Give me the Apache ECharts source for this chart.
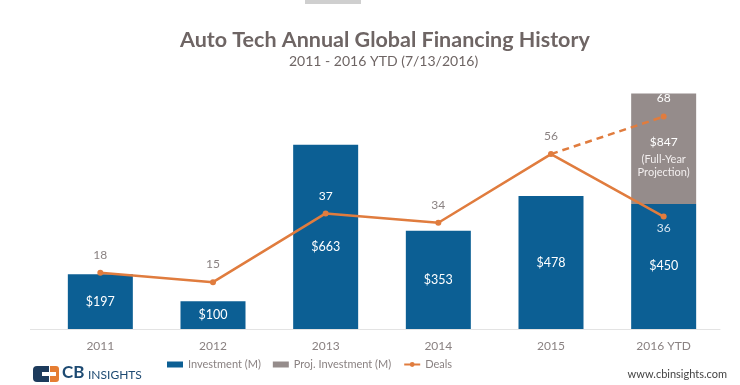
<!DOCTYPE html>
<html><head><meta charset="utf-8">
<script src="https://cdn.jsdelivr.net/npm/echarts@6/dist/echarts.min.js"></script>
<style>html,body{margin:0;padding:0;background:#fff}#c{width:740px;height:385px}</style>
</head><body><div id="c"></div>
<script>
const categories = ['2011','2012','2013','2014','2015','2016 YTD'];
const investment = [197,100,663,353,478,450];
const projTotal2016 = 847;
const deals = [18,15,37,34,56,36];
const projDeals2016 = 68;

const chart = echarts.init(document.getElementById('c'));
const F = 'Lato, "Open Sans", sans-serif';
const blue = '#0c5f94', grey = '#958c8b', orange = '#e07c3e', txt = '#8a8282';

const projSeg = categories.map((c,i)=> i===categories.length-1 ? projTotal2016 - investment[i] : null);
const dealsDashed = categories.map((c,i)=> i===categories.length-2 ? deals[i] : (i===categories.length-1 ? projDeals2016 : null));

chart.setOption({
  animation:false,
  title:[{text:'Auto Tech Annual Global Financing History', left:175, top:24,
    textStyle:{fontFamily:F, fontSize:21.5, fontWeight:'bold', color:'#6e6564'}},
    {text:'2011 - 2016 YTD (7/13/2016)', left:284, top:49,
    textStyle:{fontFamily:F, fontSize:14, fontWeight:'normal', color:'#6e6564'}}],
  grid:{left:44, right:20, top:51, bottom:56},
  legend:{bottom:10, left:162, itemGap:12, itemWidth:16, itemHeight:6,
    textStyle:{fontFamily:F, fontSize:11, color:'#8a8282'},
    data:[{name:'Investment (M)', icon:'rect'},{name:'Proj. Investment (M)', icon:'rect'},{name:'Deals'}]},
  xAxis:{type:'category', data:categories, axisTick:{show:false},
    axisLine:{lineStyle:{color:'#e3e3e3'}},
    axisLabel:{fontFamily:F, fontSize:12, color:txt, margin:11}},
  yAxis:[{type:'value', min:0, max:1000, show:false},
         {type:'value', min:0, max:89, show:false}],
  series:[
    {name:'Investment (M)', type:'bar', stack:'inv', barWidth:65, itemStyle:{color:blue},
     data: investment.map((v,i)=>({value:v, label: i===2 ? {offset:[0,10]} : {}})),
     label:{show:true, position:'inside', formatter:p=>'$'+p.value, color:'#fff', fontFamily:F, fontSize:12.5}},
    {name:'Proj. Investment (M)', type:'bar', stack:'inv', barWidth:65, itemStyle:{color:grey},
     data: projSeg,
     label:{show:true, position:'inside', offset:[0,6], fontFamily:F, color:'#fff', lineHeight:14,
       formatter:()=>'{a|$'+projTotal2016+'}\n{b|(Full-Year}\n{b|Projection)}',
       rich:{a:{fontSize:12, color:'#fff', fontFamily:F, lineHeight:22}, b:{fontSize:11, color:'#f2eeee', fontFamily:F, lineHeight:13}}}},
    {name:'Deals', type:'line', yAxisIndex:1, symbol:'circle', symbolSize:6,
     itemStyle:{color:orange}, lineStyle:{color:orange, width:2.5}, z:5,
     data: deals.map((v,i)=>{
       if(i===2) return {value:v, label:{color:'#fff', distance:8}};
       if(i===5) return {value:v, label:{position:'bottom', color:'#d6e4f0', distance:3}};
       return {value:v};
     }),
     label:{show:true, position:'top', distance:9, color:txt, fontFamily:F, fontSize:12}},
    {name:'Deals', type:'line', yAxisIndex:1, symbol:'circle', symbolSize:6, z:4,
     itemStyle:{color:orange}, lineStyle:{color:orange, width:2.5, type:[7,5]},
     data: dealsDashed.map((v,i)=> i===5 ? {value:v, label:{show:true, position:'top', distance:9, color:'#fff', fontFamily:F, fontSize:12}} : {value:v, symbol:'none'}),
     label:{show:false}}
  ],
  graphic:[
    {type:'rect', shape:{x:305,y:0,width:56,height:4}, style:{fill:'#cfcfcf'}},
    {type:'line', shape:{x1:30,y1:329.5,x2:44,y2:329.5}, style:{stroke:'#e3e3e3', lineWidth:1}},
    {type:'rect', shape:{x:33,y:366,width:16,height:16,r:[4,0,0,4]}, style:{fill:'#1d3b5c'}},
    {type:'rect', shape:{x:50,y:366,width:9,height:16,r:[0,3,3,0]}, style:{fill:'#e57d32'}},
    {type:'rect', shape:{x:42,y:372,width:14,height:4}, style:{fill:'#fff'}},
    {type:'text', left:62, top:364, style:{text:'CB', fontFamily:F, fontWeight:'bold', fontSize:17, fill:'#1d4a72'}},
    {type:'text', left:88, top:369, style:{text:'INSIGHTS', fontFamily:F, fontSize:12, fill:'#1d4a72'}},
    {type:'text', right:13, top:369, style:{text:'www.cbinsights.com', fontFamily:F, fontSize:11, fill:'#444'}}
  ]
});
</script></body></html>
